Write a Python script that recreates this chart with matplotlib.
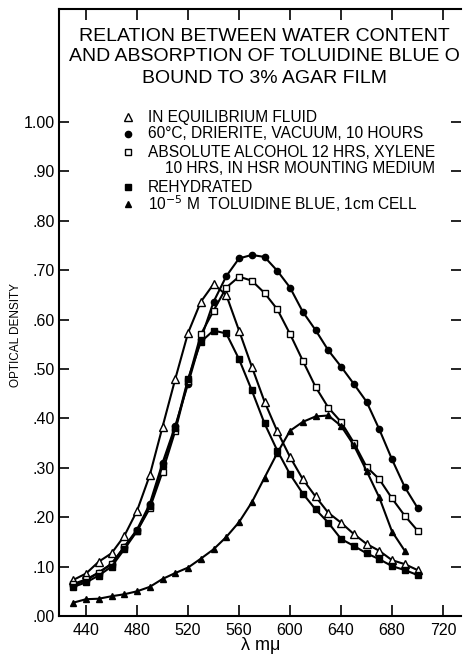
import matplotlib
matplotlib.use("Agg")
import matplotlib.pyplot as plt

plt.rcParams['font.family'] = ['Liberation Sans', 'DejaVu Sans']

# wavelength (m-mu), one reading every 10
wl = list(range(430, 701, 10))
wl_tb = list(range(430, 691, 10))

equilibrium = [.073, .086, .110, .127, .162, .213, .285, .383, .480, .573,
               .636, .672, .650, .578, .505, .434, .374, .322, .277, .242,
               .209, .189, .166, .146, .132, .113, .105, .093]
dried = [.062, .072, .088, .105, .140, .175, .227, .310, .385, .470,
         .560, .636, .688, .724, .731, .727, .699, .665, .616, .579,
         .538, .505, .470, .434, .378, .317, .261, .219]
alcohol = [.065, .074, .088, .106, .140, .172, .218, .292, .375, .476,
           .570, .618, .665, .687, .679, .654, .621, .571, .517, .464,
           .422, .393, .351, .302, .277, .238, .203, .173]
rehydrated = [.059, .068, .082, .100, .135, .172, .222, .305, .380, .480,
              .555, .578, .572, .520, .457, .390, .335, .287, .248, .216,
              .189, .156, .142, .127, .115, .101, .093, .083]
toluidine = [.027, .034, .035, .040, .044, .050, .059, .075, .087, .098,
             .116, .135, .160, .190, .230, .280, .330, .375, .393, .404,
             .406, .385, .346, .294, .240, .171, .132]

xticks = [440, 480, 520, 560, 600, 640, 680, 720]
yticks = [0.0, 0.1, 0.2, 0.3, 0.4, 0.5, 0.6, 0.7, 0.8, 0.9, 1.0]
ylabels = ['.00', '.10', '.20', '.30', '.40', '.50', '.60', '.70', '.80', '.90', '1.00']

title_lines = ['RELATION BETWEEN WATER CONTENT',
               'AND ABSORPTION OF TOLUIDINE BLUE O',
               'BOUND TO 3% AGAR FILM']

fig = plt.figure(figsize=(4.63, 6.58), dpi=100)
ax = fig.add_axes([59/463, 42/658, 402/463, 607/658])

lw = 1.5
ax.plot(wl, equilibrium, '-', color='k', lw=lw, marker='^', ms=6,
        mfc='white', mec='k', mew=1.0)
ax.plot(wl, dried, '-', color='k', lw=lw, marker='o', ms=4.5, mfc='k', mec='k')
ax.plot(wl, alcohol, '-', color='k', lw=lw, marker='s', ms=4.5,
        mfc='white', mec='k', mew=1.0)
ax.plot(wl, rehydrated, '-', color='k', lw=lw, marker='s', ms=5, mfc='k', mec='k')
ax.plot(wl_tb, toluidine, '-', color='k', lw=lw, marker='^', ms=4.5, mfc='k', mec='k')

ax.set_xlim(418.8, 734.1)
ax.set_ylim(0, 1.229)
ax.set_xticks(xticks)
ax.set_yticks(yticks)
ax.set_yticklabels(ylabels)

ax.tick_params(axis='both', direction='in', labelsize=11.5, width=1.2, color='k')
ax.tick_params(axis='x', length=8, pad=5, top=True)
ax.tick_params(axis='y', length=7, pad=3, right=True)
for s in ['left', 'bottom', 'top']:
    ax.spines[s].set_linewidth(1.5)
ax.spines['right'].set_visible(False)

fig.text(261/463, 1 - 646/658, 'λ mμ', ha='center', va='center', fontsize=13)
fig.text(16/463, 1 - 335/658, 'OPTICAL DENSITY', rotation=90,
         ha='center', va='center', fontsize=8.5)

# title inside the frame
for txt, yy in zip(title_lines, [1.174, 1.132, 1.089]):
    ax.text(580, yy, txt, ha='center', va='center', fontsize=14)

# key
key = [('^', 'white', 6, 1.010, 'IN EQUILIBRIUM FLUID'),
       ('o', 'k', 4.5, 0.976, '60°C, DRIERITE, VACUUM, 10 HOURS'),
       ('s', 'white', 4.5, 0.939, 'ABSOLUTE ALCOHOL 12 HRS, XYLENE'),
       ('s', 'k', 5, 0.868, 'REHYDRATED'),
       ('^', 'k', 4.5, 0.834, r'10$^{-5}$ M  TOLUIDINE BLUE, 1cm CELL')]
for m, fc, ms, yy, txt in key:
    ax.plot([473], [yy], marker=m, ms=ms, mfc=fc, mec='k', mew=1.0, ls='none')
    ax.text(488.6, yy, txt, ha='left', va='center', fontsize=11.2)
ax.text(502, 0.907, '10 HRS, IN HSR MOUNTING MEDIUM', ha='left', va='center', fontsize=11.2)

fig.savefig('out.png', dpi=100)
